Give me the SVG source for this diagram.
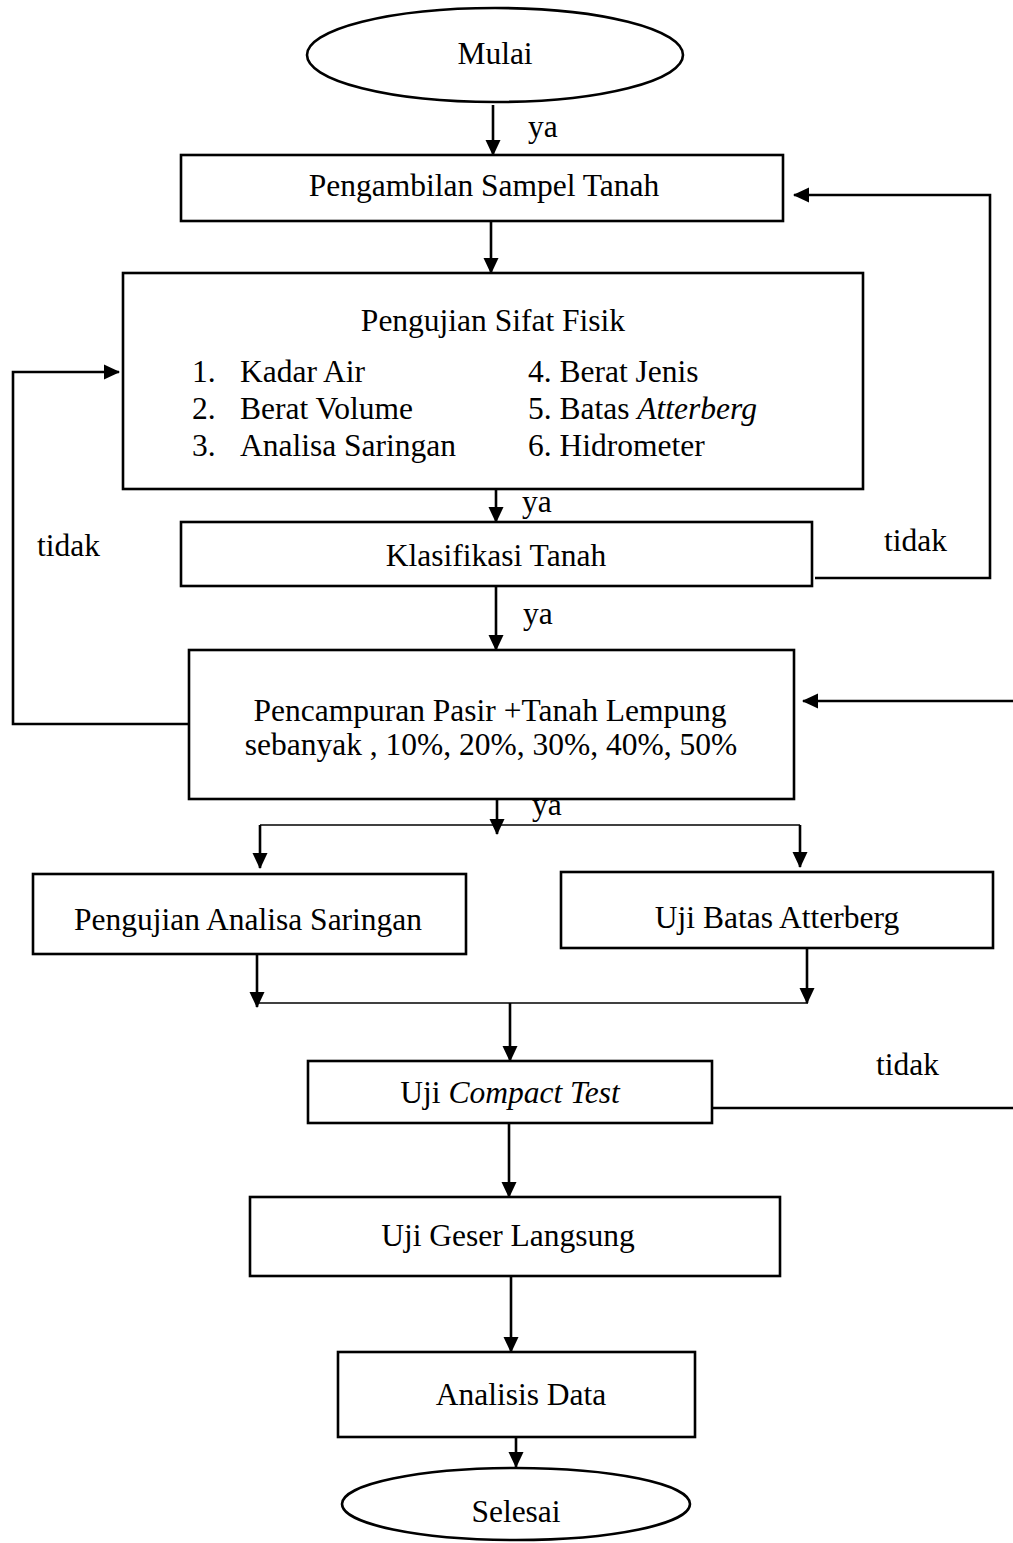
<svg xmlns="http://www.w3.org/2000/svg" width="1013" height="1543" viewBox="0 0 1013 1543">
<style>
  text { font-family: "Liberation Serif", "Times New Roman", serif; font-size: 31.5px; fill: #000; }
  .c { text-anchor: middle; }
  .it { font-style: italic; }
  .box { fill: #fff; stroke: #000; stroke-width: 2.6; }
  .ln { fill: none; stroke: #000; stroke-width: 2.6; }
  .thin { fill: none; stroke: #000; stroke-width: 1.6; }
</style>
<defs>
  <marker id="ah" markerUnits="userSpaceOnUse" markerWidth="16" markerHeight="16" refX="15" refY="8" orient="auto">
    <path d="M0,0.5 L16,8 L0,15.5 z" fill="#000"/>
  </marker>
</defs>
<rect width="1013" height="1543" fill="#fff"/>

<g id="connectors">
  <path class="ln" d="M493,105 V155" marker-end="url(#ah)"/>
  <path class="ln" d="M491,221 V273" marker-end="url(#ah)"/>
  <path class="ln" d="M496,476 V522" marker-end="url(#ah)"/>
  <path class="ln" d="M496,586 V650" marker-end="url(#ah)"/>
  <path class="ln" d="M497,790 V834" marker-end="url(#ah)"/>
  <path class="thin" d="M260,825 H800"/>
  <path class="ln" d="M260,825 V868" marker-end="url(#ah)"/>
  <path class="ln" d="M800,825 V867" marker-end="url(#ah)"/>
  <path class="ln" d="M257,948 V1007" marker-end="url(#ah)"/>
  <path class="ln" d="M807,943 V1003" marker-end="url(#ah)"/>
  <path class="thin" d="M256,1003 H808"/>
  <path class="ln" d="M510,1003 V1061" marker-end="url(#ah)"/>
  <path class="ln" d="M509,1120 V1197" marker-end="url(#ah)"/>
  <path class="ln" d="M511,1276 V1352" marker-end="url(#ah)"/>
  <path class="ln" d="M516,1435 V1467" marker-end="url(#ah)"/>
  <path class="ln" d="M815,578 H990 V195 H794" marker-end="url(#ah)"/>
  <path class="ln" d="M190,724 H13 V372 H119" marker-end="url(#ah)"/>
  <path class="ln" d="M1013,701 H803" marker-end="url(#ah)"/>
  <path class="ln" d="M712,1108 H1013"/>
  <text x="528" y="137">ya</text>
  <text x="522" y="512">ya</text>
  <text x="523" y="624">ya</text>
  <text x="532" y="815">ya</text>
  <text x="884" y="551">tidak</text>
  <text x="37" y="556">tidak</text>
  <text x="876" y="1075">tidak</text>
</g>

<g id="mulai">
  <ellipse class="box" cx="495" cy="55" rx="188" ry="47"/>
  <text class="c" x="495" y="64">Mulai</text>
</g>

<g id="pengambilan">
  <rect class="box" x="181" y="155" width="602" height="66"/>
  <text class="c" x="484" y="196">Pengambilan Sampel Tanah</text>
</g>

<g id="pengujian-fisik">
  <rect class="box" x="123" y="273" width="740" height="216"/>
  <text class="c" x="493" y="331">Pengujian Sifat Fisik</text>
  <text x="192" y="382">1.</text><text x="240" y="382">Kadar Air</text>
  <text x="192" y="419">2.</text><text x="240" y="419">Berat Volume</text>
  <text x="192" y="456">3.</text><text x="240" y="456">Analisa Saringan</text>
  <text x="528" y="382">4. Berat Jenis</text>
  <text x="528" y="419">5. Batas <tspan class="it">Atterberg</tspan></text>
  <text x="528" y="456">6. Hidrometer</text>
</g>

<g id="klasifikasi">
  <rect class="box" x="181" y="522" width="631" height="64"/>
  <text class="c" x="496" y="566">Klasifikasi Tanah</text>
</g>

<g id="pencampuran">
  <rect class="box" x="189" y="650" width="605" height="149"/>
  <text class="c" x="490" y="721">Pencampuran Pasir +Tanah Lempung</text>
  <text class="c" x="491" y="755">sebanyak , 10%, 20%, 30%, 40%, 50%</text>
</g>

<g id="analisa-saringan">
  <rect class="box" x="33" y="874" width="433" height="80"/>
  <text class="c" x="248" y="930">Pengujian Analisa Saringan</text>
</g>

<g id="atterberg">
  <rect class="box" x="561" y="872" width="432" height="76"/>
  <text class="c" x="777" y="928">Uji Batas Atterberg</text>
</g>

<g id="compact">
  <rect class="box" x="308" y="1061" width="404" height="62"/>
  <text class="c" x="510" y="1103">Uji <tspan class="it">Compact Test</tspan></text>
</g>

<g id="geser">
  <rect class="box" x="250" y="1197" width="530" height="79"/>
  <text class="c" x="508" y="1246">Uji Geser Langsung</text>
</g>

<g id="analisis">
  <rect class="box" x="338" y="1352" width="357" height="85"/>
  <text class="c" x="521" y="1405">Analisis Data</text>
</g>

<g id="selesai">
  <ellipse class="box" cx="516" cy="1504" rx="174" ry="36"/>
  <text class="c" x="516" y="1522">Selesai</text>
</g>
</svg>
